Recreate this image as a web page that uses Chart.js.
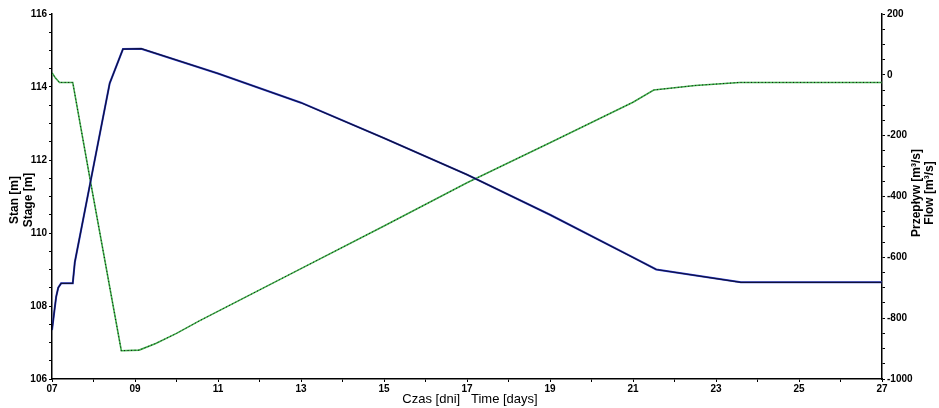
<!DOCTYPE html>
<html>
<head>
<meta charset="utf-8">
<script src="https://cdn.jsdelivr.net/npm/chart.js@4"></script>
<style>
  html, body { margin: 0; padding: 0; background: #fff; }
  #wrap { width: 939px; height: 408px; position: relative; }
</style>
</head>
<body>
<div id="wrap"><canvas id="chartStage"></canvas></div>
<script>
// ── DATA ──────────────────────────────────────────────────────────
const stageDays   = [7.0, 7.05, 7.1, 7.15, 7.22, 7.5, 7.55, 7.92, 8.39, 8.71, 9.15, 11, 13, 15, 17, 19, 21, 21.56, 23.6, 27];
const stageValues = [107.34, 107.8, 108.25, 108.5, 108.62, 108.62, 109.2, 111.36, 114.1, 115.04, 115.05, 114.37, 113.57, 112.6, 111.6, 110.5, 109.33, 109.0, 108.65, 108.65];

const flowDays    = [7.0, 7.08, 7.18, 7.5, 7.92, 8.67, 9.1, 9.5, 10.0, 10.55, 13, 15, 17, 19, 21, 21.5, 22.5, 23.57, 27];
const flowValues  = [7, -10, -25, -25, -345, -907, -905, -883, -850, -809, -637, -497, -355, -223, -90, -50, -35, -25, -25];

const dayTicks    = [7, 9, 11, 13, 15, 17, 19, 21, 23, 25, 27];
const stageTicks  = [106, 108, 110, 112, 114, 116];
const flowTicks   = [-1000, -800, -600, -400, -200, 0, 200];

const FONT_TICK  = "'Liberation Sans Narrow', 'Liberation Sans', Arial, sans-serif";
const FONT_TITLE = "'Liberation Sans', Arial, sans-serif";

const toPoints = (xs, ys) => xs.map((x, i) => ({ x: x, y: ys[i] }));

// ── AXIS TITLES ───────────────────────────────────────────────────
const titlesPlugin = {
  id: 'axisTitles',
  afterDraw(chart) {
    const { ctx } = chart;
    ctx.save();
    ctx.fillStyle = '#000';
    ctx.textAlign = 'center';
    ctx.textBaseline = 'middle';

    ctx.font = 'bold 12px ' + FONT_TITLE;
    [['Stan [m]', 15], ['Stage [m]', 29]].forEach(([t, x]) => {
      ctx.save(); ctx.translate(x, 200); ctx.rotate(-Math.PI / 2); ctx.fillText(t, 0, 0); ctx.restore();
    });
    [['Przepływ [m³/s]', 917], ['Flow [m³/s]', 930]].forEach(([t, x]) => {
      ctx.save(); ctx.translate(x, 193); ctx.rotate(-Math.PI / 2); ctx.fillText(t, 0, 0); ctx.restore();
    });

    ctx.font = '13px ' + FONT_TITLE;
    ctx.fillText('Czas [dni]   Time [days]', 470, 399);
    ctx.restore();
  }
};

const tickGrid = { display: true, drawOnChartArea: false, drawTicks: true, tickLength: 3, color: '#000', lineWidth: 1 };

// higher "order" is drawn first (underneath)
new Chart(document.getElementById('chartStage'), {
  type: 'line',
  data: {
    datasets: [
      { data: toPoints(flowDays, flowValues), yAxisID: 'yFlow', order: 4, borderColor: '#3fb04a', borderWidth: 1.6, pointRadius: 0, tension: 0 },
      { data: toPoints(flowDays, flowValues), yAxisID: 'yFlow', order: 3, borderColor: '#111', borderWidth: 1, borderDash: [1, 2.5], pointRadius: 0, tension: 0 },
      { data: toPoints(stageDays, stageValues), yAxisID: 'yStage', order: 2, borderColor: '#2a3ad0', borderWidth: 2, pointRadius: 0, tension: 0 },
      { data: toPoints(stageDays, stageValues), yAxisID: 'yStage', order: 1, borderColor: 'rgba(10,10,30,0.85)', borderWidth: 1.2, pointRadius: 0, tension: 0 }
    ]
  },
  options: {
    responsive: true,
    maintainAspectRatio: false,
    animation: false,
    layout: { padding: { top: 14, left: 0, right: 0, bottom: 0 } },
    plugins: { legend: { display: false }, tooltip: { enabled: false } },
    scales: {
      x: {
        type: 'linear',
        min: 7, max: 27,
        grid: tickGrid,
        border: { display: true, color: '#000', width: 1.5 },
        afterFit(s) { s.height = 29; },
        ticks: {
          stepSize: 1, autoSkip: false, maxRotation: 0, padding: 1,
          color: '#000', font: { family: FONT_TICK, size: 10, weight: 'bold' },
          callback: v => dayTicks.includes(v) ? String(v).padStart(2, '0') : ''
        }
      },
      yStage: {
        type: 'linear', position: 'left',
        min: 106, max: 116,
        grid: tickGrid,
        border: { display: true, color: '#000', width: 1.5 },
        afterFit(s) { s.width = 52; },
        ticks: {
          stepSize: 0.5, autoSkip: false, padding: 2,
          color: '#000', font: { family: FONT_TICK, size: 10, weight: 'bold' },
          callback: v => stageTicks.includes(v) ? String(v) : ''
        }
      },
      yFlow: {
        type: 'linear', position: 'right',
        min: -1000, max: 200,
        grid: tickGrid,
        border: { display: true, color: '#000', width: 1.5 },
        afterFit(s) { s.width = 57; },
        ticks: {
          stepSize: 50, autoSkip: false, padding: 2,
          color: '#000', font: { family: FONT_TICK, size: 10, weight: 'bold' },
          callback: v => flowTicks.includes(v) ? String(v) : ''
        }
      }
    }
  },
  plugins: [titlesPlugin]
});
</script>
</body>
</html>
